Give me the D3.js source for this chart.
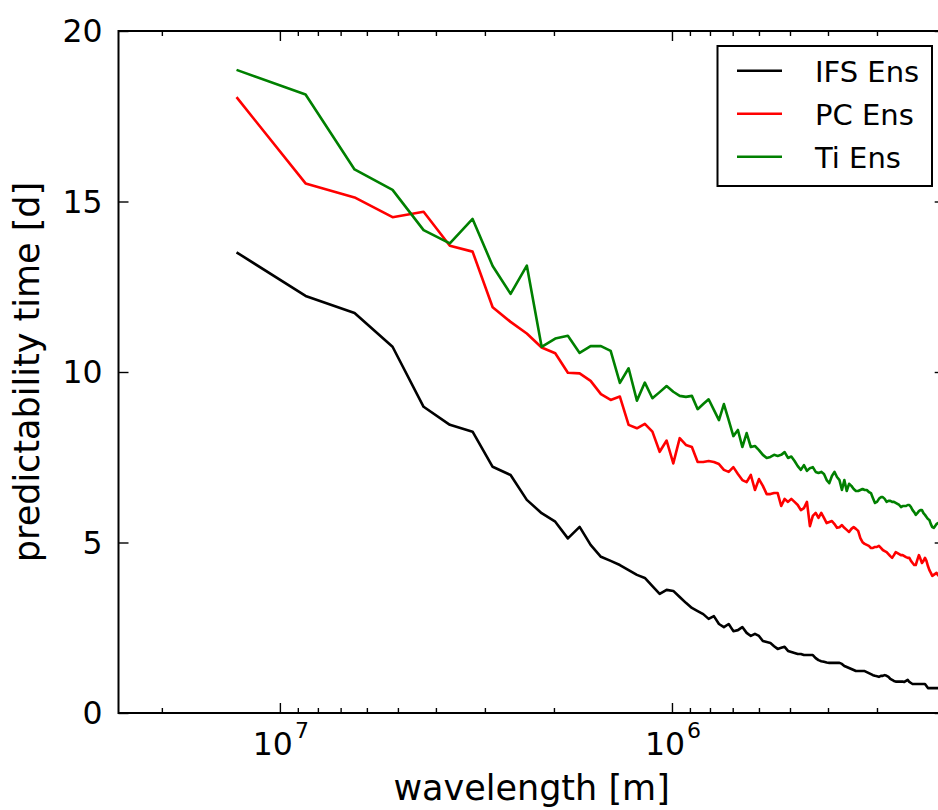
<!DOCTYPE html>
<html>
<head>
<meta charset="utf-8">
<script src="https://cdn.jsdelivr.net/npm/d3@7"></script>
<style>
  body { margin: 0; background: #fff; }
  svg { display: block; }
  text { font-family: "DejaVu Sans", sans-serif; fill: #000; }
</style>
</head>
<body>
<div id="chart"></div>
<script>
// wavenumbers 2..128, wavelength = L0 / k
const L0 = 2.58e7;
const wavenumber = d3.range(2, 129);

// predictability time [d], one value per wavenumber
const ifsEns = [
    13.51, 12.23, 11.73, 10.74, 8.98, 8.45, 8.25, 7.22, 6.98, 6.25,
    5.86, 5.61, 5.12, 5.46, 4.93, 4.58, 4.46, 4.34, 4.19, 4.05,
    3.96, 3.72, 3.49, 3.61, 3.58, 3.40, 3.23, 3.08, 2.99, 2.90,
    2.76, 2.84, 2.61, 2.52, 2.61, 2.40, 2.43, 2.52, 2.35, 2.26,
    2.32, 2.26, 2.11, 2.08, 2.05, 1.96, 1.88, 1.91, 1.94, 1.82,
    1.79, 1.76, 1.73, 1.73, 1.70, 1.70, 1.70, 1.70, 1.61, 1.55,
    1.52, 1.50, 1.48, 1.47, 1.47, 1.47, 1.47, 1.47, 1.44, 1.38,
    1.35, 1.32, 1.29, 1.26, 1.23, 1.23, 1.23, 1.23, 1.23, 1.20,
    1.17, 1.14, 1.11, 1.09, 1.08, 1.06, 1.09, 1.09, 1.11, 1.09,
    1.06, 1.00, 0.97, 0.94, 0.92, 0.92, 0.92, 0.92, 0.92, 0.91,
    0.94, 0.97, 0.91, 0.88, 0.85, 0.85, 0.85, 0.85, 0.85, 0.85,
    0.85, 0.85, 0.85, 0.79, 0.73, 0.73, 0.73, 0.73, 0.73, 0.73,
    0.73, 0.73, 0.72, 0.72, 0.72, 0.71, 0.71
];
const pcEns = [
    18.06, 15.53, 15.12, 14.54, 14.70, 13.70, 13.53, 11.90, 11.47, 11.13,
    10.72, 10.55, 9.98, 9.96, 9.74, 9.35, 9.18, 9.28, 8.45, 8.35,
    8.48, 8.25, 7.66, 7.99, 7.32, 8.06, 7.86, 7.80, 7.36, 7.36,
    7.39, 7.36, 7.30, 7.13, 7.07, 7.21, 7.01, 6.83, 6.77, 6.98,
    6.54, 6.86, 6.66, 6.42, 6.42, 6.45, 6.45, 6.07, 6.28, 6.19,
    6.28, 6.19, 6.10, 5.95, 6.01, 6.19, 5.48, 5.78, 5.87, 5.72,
    5.87, 5.72, 5.57, 5.60, 5.63, 5.54, 5.43, 5.45, 5.51, 5.43,
    5.37, 5.31, 5.40, 5.45, 5.40, 5.34, 5.13, 5.01, 4.96, 4.93,
    4.90, 4.84, 4.84, 4.87, 4.87, 4.90, 4.84, 4.78, 4.75, 4.72,
    4.66, 4.60, 4.55, 4.63, 4.72, 4.69, 4.66, 4.63, 4.63, 4.60,
    4.57, 4.55, 4.55, 4.46, 4.40, 4.34, 4.34, 4.49, 4.63, 4.52,
    4.40, 4.46, 4.55, 4.46, 4.31, 4.19, 4.11, 4.02, 4.05, 4.08,
    4.11, 4.05, 4.00, 3.98, 4.02, 3.95, 3.97
];
const tiEns = [
    18.86, 18.14, 15.94, 15.34, 14.16, 13.77, 14.49, 13.11, 12.29, 13.12,
    10.74, 10.98, 11.06, 10.56, 10.76, 10.76, 10.62, 9.68, 10.11, 9.16,
    9.69, 9.23, 9.41, 9.59, 9.42, 9.30, 9.27, 9.30, 8.91, 9.06,
    9.20, 8.89, 8.59, 9.06, 8.59, 8.12, 8.30, 7.80, 8.21, 7.80,
    7.83, 7.71, 7.57, 7.48, 7.51, 7.57, 7.54, 7.57, 7.65, 7.48,
    7.52, 7.39, 7.24, 7.13, 7.27, 7.10, 7.18, 7.21, 7.07, 7.04,
    7.07, 7.01, 6.83, 6.74, 6.95, 7.07, 6.92, 6.83, 6.54, 6.83,
    6.51, 6.72, 6.66, 6.57, 6.51, 6.51, 6.54, 6.57, 6.54, 6.54,
    6.48, 6.45, 6.30, 6.16, 6.19, 6.28, 6.33, 6.33, 6.28, 6.19,
    6.22, 6.22, 6.19, 6.19, 6.16, 6.13, 6.10, 6.04, 6.07, 6.07,
    6.07, 6.10, 6.10, 6.04, 5.95, 5.89, 5.81, 5.86, 5.92, 5.95,
    5.95, 5.86, 5.81, 5.75, 5.69, 5.66, 5.54, 5.45, 5.43, 5.48,
    5.54, 5.57, 5.55, 5.50, 5.60, 5.50, 5.45
];

const seriesNames = ["IFS Ens", "PC Ens", "Ti Ens"];
const seriesColors = ["#000000", "#ff0000", "#008000"];
const seriesValues = [ifsEns, pcEns, tiEns];

const yTicks = [0, 5, 10, 15, 20];
const xMajorTicks = [1e7, 1e6];
const xMajorExp = ["7", "6"];
const xMinorTicks = [2e7, 9e6, 8e6, 7e6, 6e6, 5e6, 4e6, 3e6, 2e6,
                     9e5, 8e5, 7e5, 6e5, 5e5, 4e5, 3e5, 2e5];

const margin = {top: 31, left: 118.5};
const width = 826.2, height = 682;

const svg = d3.select("#chart").append("svg")
    .attr("width", 938).attr("height", 810);
svg.append("rect").attr("width", 938).attr("height", 810).attr("fill", "#fff");

const g = svg.append("g")
    .attr("transform", "translate(" + margin.left + "," + margin.top + ")");

const x = d3.scaleLog().domain([L0, L0 / 128]).range([0, width]);
const y = d3.scaleLinear().domain([0, 20]).range([height, 0]);

g.append("clipPath").attr("id", "plot-clip")
    .append("rect").attr("width", width).attr("height", height);

// lines
const line = d3.line()
    .x((d, i) => x(L0 / wavenumber[i]))
    .y(d => y(d));

seriesValues.forEach((vals, s) => {
    g.append("path")
        .datum(vals)
        .attr("clip-path", "url(#plot-clip)")
        .attr("fill", "none")
        .attr("stroke", seriesColors[s])
        .attr("stroke-width", 2.6)
        .attr("stroke-linejoin", "round")
        .attr("d", line);
});

// ticks (pointing inward on all four sides)
const minorIn = xMinorTicks.filter(v => v <= L0 && v >= L0 / 128);
function styleAxis(sel) {
    sel.select(".domain").remove();
    sel.selectAll(".tick line").attr("stroke", "#000").attr("stroke-width", 1.4);
    sel.selectAll(".tick text").remove();
}
g.append("g").attr("transform", "translate(0," + height + ")")
    .call(d3.axisBottom(x).tickValues(xMajorTicks).tickSize(-10)).call(styleAxis);
g.append("g").attr("transform", "translate(0," + height + ")")
    .call(d3.axisBottom(x).tickValues(minorIn).tickSize(-5)).call(styleAxis);
g.append("g")
    .call(d3.axisTop(x).tickValues(xMajorTicks).tickSize(-10)).call(styleAxis);
g.append("g")
    .call(d3.axisTop(x).tickValues(minorIn).tickSize(-5)).call(styleAxis);
g.append("g")
    .call(d3.axisLeft(y).tickValues(yTicks).tickSize(-10)).call(styleAxis);
g.append("g").attr("transform", "translate(" + width + ",0)")
    .call(d3.axisRight(y).tickValues(yTicks).tickSize(-10)).call(styleAxis);

// frame
g.append("rect")
    .attr("width", width).attr("height", height)
    .attr("fill", "none").attr("stroke", "#000").attr("stroke-width", 2);

// tick labels
g.selectAll(".ylab").data(yTicks).enter().append("text")
    .attr("x", -16).attr("y", d => y(d)).attr("dy", "0.36em")
    .attr("text-anchor", "end").style("font-size", "31.5px")
    .text(d => d);

const xl = g.selectAll(".xlab").data(xMajorTicks).enter().append("text")
    .attr("x", d => x(d) + 1).attr("y", height + 42)
    .attr("text-anchor", "middle").style("font-size", "31.5px");
xl.append("tspan").text("10");
xl.append("tspan").attr("dy", -17.5).attr("dx", 2).style("font-size", "22px")
    .text((d, i) => xMajorExp[i]);

// axis titles
g.append("text")
    .attr("x", width / 2).attr("y", height + 87)
    .attr("text-anchor", "middle").style("font-size", "35px")
    .text("wavelength [m]");
g.append("text")
    .attr("transform", "translate(" + (39 - margin.left) + "," + (height / 2) + ") rotate(-90)")
    .attr("text-anchor", "middle").style("font-size", "35px")
    .text("predictability time [d]");

// legend
const legend = svg.append("g");
legend.append("rect")
    .attr("x", 717.5).attr("y", 46).attr("width", 214.5).attr("height", 140)
    .attr("fill", "#fff").attr("stroke", "#000").attr("stroke-width", 2);
seriesNames.forEach((name, i) => {
    const ry = 70.7 + i * 43;
    legend.append("line")
        .attr("x1", 737).attr("x2", 782).attr("y1", ry).attr("y2", ry)
        .attr("stroke", seriesColors[i]).attr("stroke-width", 2.6);
    legend.append("text")
        .attr("x", 815).attr("y", ry + 11)
        .style("font-size", "29px")
        .text(name);
});
</script>
</body>
</html>
